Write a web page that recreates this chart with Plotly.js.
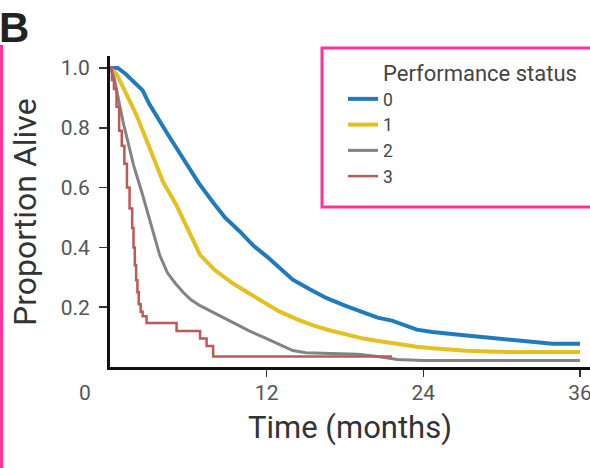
<!DOCTYPE html>
<html>
<head>
<meta charset="utf-8">
<script src="https://cdn.plot.ly/plotly-3.0.1.min.js"></script>
<style>html,body{margin:0;padding:0;background:#fff;}#chart{width:590px;height:468px;}</style>
</head>
<body>
<div id="chart"></div>
<script>
// Performance status groups
const seriesNames = ["0", "1", "2", "3"];
const seriesColors = ["#1f7bbd", "#e6c021", "#838383", "#bd5a58"];

// Time (months) and proportion alive per group
const t0 = [0, 0.6, 1.2, 2.0, 2.5, 3.0, 3.6, 4.4, 5.2, 5.9, 6.8, 7.9, 8.8, 9.9, 11.0, 12.0, 13.0, 14.0, 15.3, 16.6, 18.0, 19.3, 20.5, 21.6, 22.5, 23.5, 24.7, 26.0, 27.3, 28.5, 29.8, 31.0, 32.3, 33.9, 36];
const p0 = [1.0, 1.0, 0.98, 0.945, 0.925, 0.88, 0.835, 0.78, 0.725, 0.676, 0.615, 0.55, 0.50, 0.455, 0.405, 0.37, 0.33, 0.292, 0.26, 0.23, 0.205, 0.185, 0.165, 0.155, 0.14, 0.125, 0.117, 0.11, 0.105, 0.10, 0.095, 0.09, 0.084, 0.078, 0.078];

const t1 = [0, 0.5, 1.0, 2.0, 3.06, 4.05, 5.1, 6.1, 6.9, 8.0, 9.4, 10.7, 12.0, 13.0, 14.3, 15.5, 16.8, 18.0, 19.4, 20.8, 22.2, 23.5, 24.7, 26.0, 27.3, 29.0, 31.0, 36];
const p1 = [1.0, 0.98, 0.935, 0.845, 0.73, 0.62, 0.54, 0.45, 0.375, 0.325, 0.28, 0.245, 0.213, 0.185, 0.16, 0.14, 0.123, 0.11, 0.095, 0.085, 0.075, 0.068, 0.063, 0.058, 0.054, 0.052, 0.05, 0.05];

const t2 = [0, 0.3, 1.0, 1.8, 2.5, 3.3, 3.8, 4.4, 5.0, 5.6, 6.2, 6.9, 8.0, 9.4, 10.7, 12.0, 13.0, 14.0, 15.0, 17.0, 19.0, 20.5, 22.0, 24.0, 36];
const p2 = [1.0, 0.97, 0.82, 0.676, 0.575, 0.45, 0.375, 0.315, 0.28, 0.25, 0.225, 0.205, 0.18, 0.147, 0.12, 0.095, 0.075, 0.055, 0.048, 0.045, 0.043, 0.035, 0.025, 0.022, 0.022];

const t3 = [0, 0.15, 0.3, 0.5, 0.7, 0.9, 1.1, 1.3, 1.5, 1.7, 1.8, 1.9, 2.0, 2.1, 2.2, 2.35, 2.5, 2.8, 5.1, 6.9, 7.4, 7.9, 21.6];
const p3 = [1.0, 0.96, 0.93, 0.87, 0.79, 0.74, 0.68, 0.60, 0.53, 0.465, 0.40, 0.34, 0.29, 0.25, 0.21, 0.185, 0.17, 0.147, 0.12, 0.095, 0.07, 0.035, 0.035];

const yTickVals = [0.2, 0.4, 0.6, 0.8, 1.0];
const yTickText = ["0.2", "0.4", "0.6", "0.8", "1.0"];
const xTickVals = [12, 24, 36];
const xTickText = ["12", "24", "36"];

const xs = [t0, t1, t2, t3];
const ys = [p0, p1, p2, p3];
const widths = [4, 4, 3, 2.5];
const shapes = ["linear", "linear", "linear", "hv"];

const traces = seriesNames.map((n, i) => ({
  type: "scatter",
  mode: "lines",
  name: n,
  x: xs[i],
  y: ys[i],
  line: {color: seriesColors[i], width: widths[i], shape: shapes[i]},
  hoverinfo: "skip"
}));

const tickFont = {family: "Roboto, Arial, sans-serif", size: 21, color: "#555"};
const titleFont = {family: "Roboto, Arial, sans-serif", size: 31, color: "#333"};

const layout = {
  width: 590,
  height: 468,
  margin: {l: 110, r: 0, t: 56, b: 101, pad: 0},
  paper_bgcolor: "#fff",
  plot_bgcolor: "#fff",
  showlegend: true,
  legend: {
    x: (343 - 110) / 480, xanchor: "left",
    y: (367 - 81) / 311, yanchor: "top",
    bgcolor: "rgba(0,0,0,0)",
    borderwidth: 0,
    font: {family: "Roboto, Arial, sans-serif", size: 17.5, color: "#444"},
    tracegroupgap: 0
  },
  xaxis: {
    range: [0, 36.77],
    tickvals: xTickVals,
    ticktext: xTickText,
    ticks: "outside",
    ticklen: 7,
    tickwidth: 1.5,
    tickcolor: "#333",
    ticklabelstandoff: -2,
    ticklabeloverflow: "allow",
    showline: true,
    linecolor: "#111",
    linewidth: 3,
    showgrid: false,
    zeroline: false,
    tickfont: tickFont,
    title: {text: "Time (months)", font: titleFont, standoff: 13}
  },
  yaxis: {
    range: [0, 1.04],
    tickvals: yTickVals,
    ticktext: yTickText,
    ticks: "outside",
    ticklen: 8,
    tickwidth: 1.5,
    tickcolor: "#333",
    ticklabelstandoff: 5,
    showline: true,
    linecolor: "#111",
    linewidth: 3,
    showgrid: false,
    zeroline: false,
    tickfont: tickFont
  },
  shapes: [
    {type: "rect", xref: "paper", yref: "paper",
     x0: (322 - 110) / 480, x1: (610 - 110) / 480,
     y0: (367 - 207) / 311, y1: (367 - 48) / 311,
     line: {color: "#ff3399", width: 3}, fillcolor: "rgba(0,0,0,0)"},
    {type: "line", xref: "paper", yref: "paper",
     x0: (1.5 - 110) / 480, x1: (1.5 - 110) / 480,
     y0: (367 - 480) / 311, y1: (367 - 45) / 311,
     line: {color: "#ff3399", width: 3}}
  ],
  annotations: [
    {text: "Proportion Alive", xref: "paper", yref: "paper",
     x: (25 - 110) / 480, y: (367 - 212) / 311, xanchor: "center", yanchor: "middle",
     textangle: -90, showarrow: false, font: {family: "Roboto, Arial, sans-serif", size: 32, color: "#333"}},
    {text: "<b>B</b>", xref: "paper", yref: "paper",
     x: (-3 - 110) / 480, y: (367 - 27) / 311, xanchor: "left", yanchor: "middle",
     showarrow: false, font: {family: "Liberation Sans, Arial, sans-serif", size: 42, color: "#222"}},
    {text: "Performance status", xref: "paper", yref: "paper",
     x: (381 - 110) / 480, y: (367 - 73) / 311, xanchor: "left", yanchor: "middle",
     showarrow: false, font: {family: "Roboto, Arial, sans-serif", size: 22, color: "#444"}},
    {text: "0", xref: "paper", yref: "paper",
     x: (85 - 110) / 480, y: (367 - 393) / 311, xanchor: "center", yanchor: "middle",
     showarrow: false, font: tickFont}
  ]
};

Plotly.newPlot("chart", traces, layout, {displayModeBar: false, staticPlot: true});
</script>
</body>
</html>
